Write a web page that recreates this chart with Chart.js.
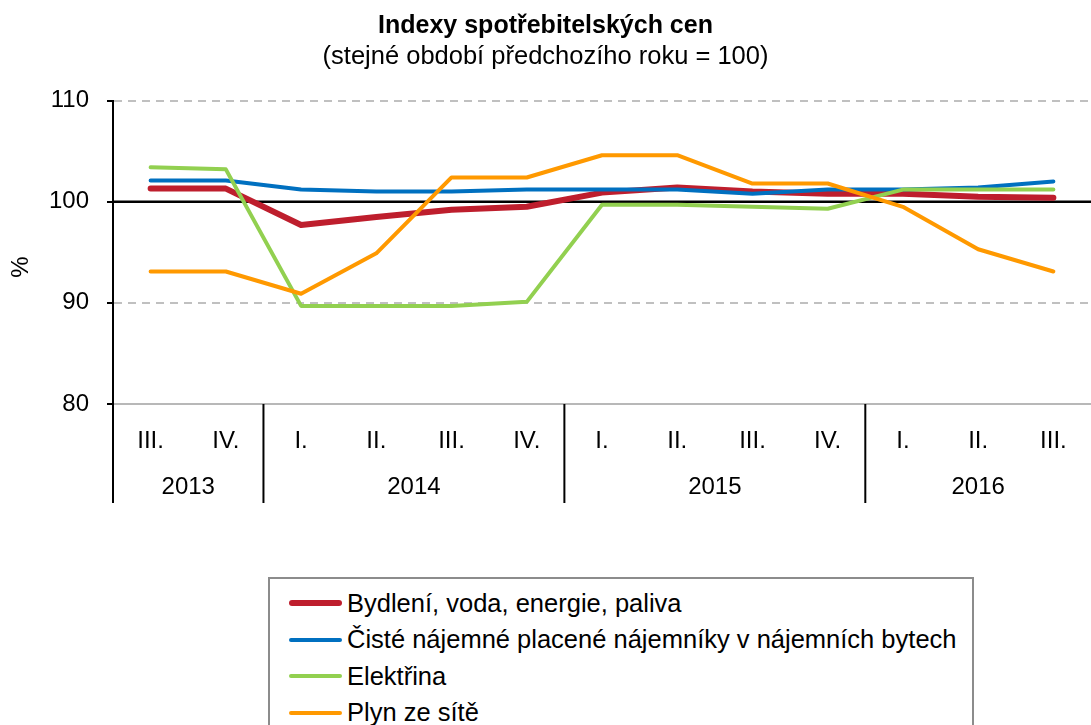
<!DOCTYPE html>
<html lang="cs">
<head>
<meta charset="utf-8">
<title>Indexy spotřebitelských cen</title>
<script src="https://cdn.jsdelivr.net/npm/chart.js@4/dist/chart.umd.min.js"></script>
<style>
  body { margin: 0; background: #fff; }
  #wrap { position: relative; width: 1091px; height: 725px; overflow: hidden; }
  #legend {
    position: absolute; left: 268px; top: 577px; width: 706px; height: 200px;
    box-sizing: border-box; border: 2px solid #8c8c8c; background: #fff;
    padding-top: 6px; font: 25.5px "Liberation Sans", Arial, sans-serif; color: #000;
  }
  #legend .row { display: flex; align-items: center; height: 36.5px; white-space: nowrap; }
  #legend .swatch { width: 53px; margin-left: 19px; margin-right: 5px; border-radius: 3px; }
</style>
</head>
<body>
<div id="wrap">
  <canvas id="chart" width="1091" height="725"></canvas>
  <div id="legend"></div>
</div>
<script>
// categories
const quarters = ["III.", "IV.", "I.", "II.", "III.", "IV.", "I.", "II.", "III.", "IV.", "I.", "II.", "III."];
const years = ["2013", "2014", "2015", "2016"];
const quartersPerYear = [2, 4, 4, 3];

// series (same period of previous year = 100)
const seriesNames = [
  "Bydlení, voda, energie, paliva",
  "Čisté nájemné placené nájemníky v nájemních bytech",
  "Elektřina",
  "Plyn ze sítě"
];
const bydleni = [101.3, 101.3, 97.7, 98.5, 99.2, 99.5, 100.9, 101.4, 101.0, 100.8, 100.8, 100.5, 100.4];
const najemne = [102.1, 102.1, 101.2, 101.0, 101.0, 101.2, 101.2, 101.2, 100.8, 101.2, 101.2, 101.4, 102.0];
const elektrina = [103.4, 103.2, 89.7, 89.7, 89.7, 90.1, 99.7, 99.7, 99.5, 99.3, 101.2, 101.2, 101.2];
const plyn = [93.1, 93.1, 90.9, 94.9, 102.4, 102.4, 104.6, 104.6, 101.8, 101.8, 99.5, 95.3, 93.1];

const yTicks = [80, 90, 100, 110];

const FONT = '"Liberation Sans", Arial, sans-serif';
const colors = ["#be1e2d", "#0070c0", "#92d050", "#ff9900"];
const widths = [6, 4, 4, 4];
const values = [bydleni, najemne, elektrina, plyn];

// year row under the quarter labels + separators, and the "%" axis title
const yearAxis = {
  id: "yearAxis",
  afterDraw(chart) {
    const ctx = chart.ctx;
    const x = chart.scales.x;
    const half = (x.getPixelForValue(1) - x.getPixelForValue(0)) / 2;
    let start = 0;
    ctx.save();
    ctx.font = "24px " + FONT;
    ctx.fillStyle = "#000";
    ctx.textAlign = "center";
    ctx.textBaseline = "middle";
    ctx.strokeStyle = "#000";
    ctx.lineWidth = 2;
    years.forEach((yr, i) => {
      const end = start + quartersPerYear[i] - 1;
      const left = x.getPixelForValue(start) - half;
      const right = x.getPixelForValue(end) + half;
      ctx.beginPath();
      ctx.moveTo(left, x.top);
      ctx.lineTo(left, x.top + 99);
      ctx.stroke();
      ctx.fillText(yr, (left + right) / 2, x.top + 83);
      start = end + 1;
    });
    // y axis title, sits a bit below the middle of the plot
    ctx.translate(21, 267);
    ctx.rotate(-Math.PI / 2);
    ctx.fillText("%", 0, 0);
    ctx.restore();
  }
};

// solid black line at 100
const baseLine = {
  id: "baseLine",
  beforeDatasetsDraw(chart) {
    const ctx = chart.ctx;
    const a = chart.chartArea;
    const y = chart.scales.y.getPixelForValue(100);
    ctx.save();
    ctx.strokeStyle = "#000";
    ctx.lineWidth = 2.5;
    ctx.beginPath();
    ctx.moveTo(a.left, y);
    ctx.lineTo(a.right, y);
    ctx.stroke();
    ctx.restore();
  }
};

const chart = new Chart(document.getElementById("chart"), {
  type: "line",
  data: {
    labels: quarters,
    datasets: seriesNames.map((name, i) => ({
      label: name,
      data: values[i],
      borderColor: colors[i],
      backgroundColor: colors[i],
      borderWidth: widths[i],
      borderCapStyle: "round",
      borderJoinStyle: "round",
      pointRadius: 0,
      tension: 0,
      order: 4 - i
    }))
  },
  plugins: [yearAxis, baseLine],
  options: {
    responsive: false,
    animation: false,
    layout: { padding: { left: 0, right: 0, top: 0, bottom: 0 } },
    plugins: {
      legend: { display: false },
      tooltip: { enabled: false },
      title: {
        display: true,
        text: "Indexy spotřebitelských cen",
        color: "#000",
        font: { family: FONT, size: 25, weight: "bold" },
        padding: { top: 11, bottom: 0 }
      },
      subtitle: {
        display: true,
        text: "(stejné období předchozího roku = 100)",
        color: "#000",
        font: { family: FONT, size: 25.5 },
        padding: { top: 1, bottom: 28 }
      }
    },
    scales: {
      x: {
        offset: true,
        afterFit: (s) => { s.height = 321; },
        grid: { display: false },
        border: { display: true, color: "#b8b8b8", width: 2 },
        ticks: { color: "#000", font: { family: FONT, size: 24 }, padding: 15, maxRotation: 0, autoSkip: false }
      },
      y: {
        min: 80,
        max: 110,
        afterFit: (s) => { s.width = 113; },
        afterBuildTicks: (s) => { s.ticks = yTicks.map(v => ({ value: v })); },
        grid: {
          color: (c) => (c.tick && (c.tick.value === 110 || c.tick.value === 90)) ? "#c0c0c0" : "rgba(0,0,0,0)",
          lineWidth: 2,
          tickColor: "#000",
          tickLength: 6,
          tickWidth: 2
        },
        border: { display: true, color: "#000", width: 2, dash: [8, 6] },
        ticks: { color: "#000", font: { family: FONT, size: 24 }, padding: 18 }
      }
    }
  }
});

// HTML legend from the datasets
const legendEl = document.getElementById("legend");
chart.data.datasets.forEach((ds) => {
  const row = document.createElement("div");
  row.className = "row";
  const sw = document.createElement("span");
  sw.className = "swatch";
  sw.style.height = ds.borderWidth + "px";
  sw.style.background = ds.borderColor;
  const txt = document.createElement("span");
  txt.textContent = ds.label;
  row.appendChild(sw);
  row.appendChild(txt);
  legendEl.appendChild(row);
});
</script>
</body>
</html>
